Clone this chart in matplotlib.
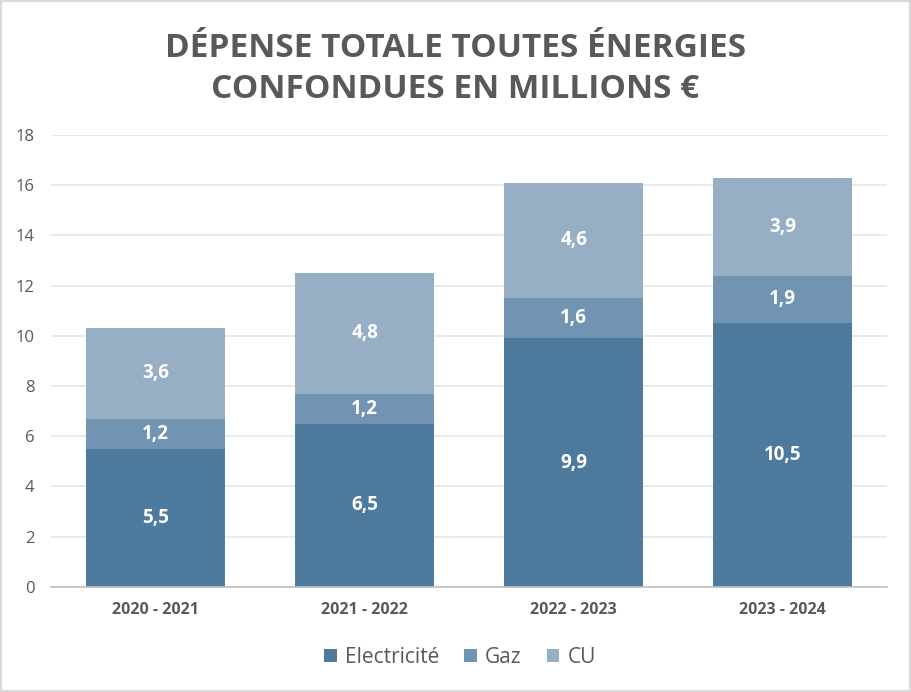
import numpy as np
import matplotlib.pyplot as plt
from matplotlib.patches import Rectangle

# ============== DATA ==============
periodes = ['2020 - 2021', '2021 - 2022', '2022 - 2023', '2023 - 2024']
electricite = [5.5, 6.5, 9.9, 10.5]
gaz = [1.2, 1.2, 1.6, 1.9]
cu = [3.6, 4.8, 4.6, 3.9]
series_names = ['Electricité', 'Gaz', 'CU']
colors = ['#4E7A9E', '#7094B2', '#97AFC5']
# ==================================

plt.rcParams['font.family'] = ['Open Sans', 'DejaVu Sans']

fig = plt.figure(figsize=(9.11, 6.92), dpi=100)
ax = fig.add_axes([0.056, 0.152, 0.918, 0.653])

x = np.arange(len(periodes))
bottom = np.zeros(len(periodes))
handles = []
for vals, name, col in zip([electricite, gaz, cu], series_names, colors):
    bars = ax.bar(x, vals, width=0.665, bottom=bottom, color=col, label=name, zorder=2)
    handles.append(bars)
    for xi, b, v in zip(x, bottom, vals):
        ax.text(xi, b + v / 2, f"{v:.1f}".replace('.', ','), ha='center', va='center',
                color='white', fontsize=13.5, fontweight='bold', zorder=3)
    bottom += np.array(vals)

ax.set_xlim(-0.5, len(periodes) - 0.5)
ax.set_ylim(0, 18)
ax.set_yticks(range(0, 19, 2))
ax.set_xticks(x)
ax.set_xticklabels(periodes, fontsize=11.5, fontweight='bold', color='#595959')
ax.tick_params(axis='y', labelsize=12, labelcolor='#595959', length=0, pad=12)
ax.tick_params(axis='x', length=0, pad=11)
ax.grid(axis='y', color='#E6E6E6', lw=1.2, zorder=0)
for s in ['top', 'right', 'left']:
    ax.spines[s].set_visible(False)
ax.spines['bottom'].set_color('#BFBFBF')
ax.spines['bottom'].set_linewidth(1.2)

fig.text(0.5, 0.9, 'DÉPENSE TOTALE TOUTES ÉNERGIES\nCONFONDUES EN MILLIONS €',
         ha='center', va='center', fontsize=24, fontweight='bold', color='#595959',
         linespacing=1.32)

fig.legend(handles=handles, labels=series_names, loc='center', bbox_to_anchor=(0.505, 0.05),
           ncol=3, frameon=False, fontsize=15, labelcolor='#595959',
           handlelength=0.6, handleheight=0.6, handletextpad=0.4, columnspacing=1.2)

fig.patches.append(Rectangle((0.001, 0.001), 0.998, 0.998, transform=fig.transFigure,
                             fill=False, edgecolor='#D9D9D9', lw=1.5))

fig.savefig('out.png', dpi=100)
